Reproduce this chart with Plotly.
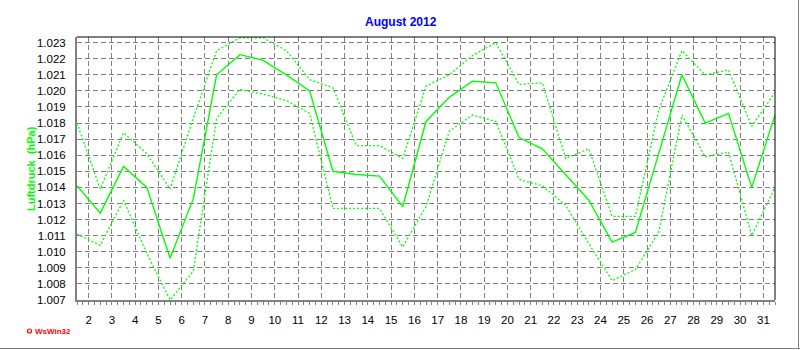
import plotly.graph_objects as go

# ---- data ----
title_text = "August 2012"
y_title = "Luftdruck  (hPa)"
days = list(range(1, 32))
mean_hpa = [1.0141, 1.0124, 1.0153, 1.0140, 1.0096, 1.0133, 1.0210, 1.02225, 1.0219, 1.0210,
            1.0200, 1.0150, 1.0148, 1.0147, 1.0128, 1.0181, 1.0196, 1.0206, 1.0205, 1.0171,
            1.0164, 1.0148, 1.0132, 1.0106, 1.0112, 1.0161, 1.0210, 1.0180, 1.0186, 1.0140,
            1.0185]
max_hpa = [1.0180, 1.0139, 1.0174, 1.0161, 1.0139, 1.0183, 1.0225, 1.0233, 1.0233, 1.0225,
           1.0207, 1.0202, 1.0166, 1.0166, 1.0158, 1.0203, 1.0210, 1.0222, 1.0230, 1.0204,
           1.0205, 1.0158, 1.0164, 1.0122, 1.0122, 1.0188, 1.0225, 1.0210, 1.0213, 1.0178,
           1.0199]
min_hpa = [1.0111, 1.0104, 1.0132, 1.0099, 1.0070, 1.0088, 1.0183, 1.0201, 1.0198, 1.0194,
           1.0186, 1.0127, 1.0127, 1.0127, 1.0103, 1.0128, 1.0175, 1.0185, 1.0181, 1.0145,
           1.0141, 1.0129, 1.0105, 1.0082, 1.0089, 1.0112, 1.0185, 1.0159, 1.0162, 1.0110,
           1.0140]
tick_days = list(range(2, 32))

# each daily value sits in the middle of its day
x = [d + 0.5 for d in days]

GREEN = "#00FF00"
GRID = "#808080"
FONT = "Arial, Liberation Sans, sans-serif"
FS = 11.5

fig = go.Figure()
fig.add_trace(go.Scatter(x=x, y=max_hpa, mode="lines",
                         line=dict(color=GREEN, width=1.3, dash="2px,2px")))
fig.add_trace(go.Scatter(x=x, y=min_hpa, mode="lines",
                         line=dict(color=GREEN, width=1.3, dash="2px,2px")))
fig.add_trace(go.Scatter(x=x, y=mean_hpa, mode="lines",
                         line=dict(color=GREEN, width=1.4)))

L, R, T, B = 77, 25, 37, 50
W, H = 800, 350
pw, ph = W - L - R, H - T - B


def px(xp):
    return (xp - L) / pw


def py(yp):
    return (H - B - yp) / ph


fig.update_layout(
    width=W, height=H,
    margin=dict(l=L, r=R, t=T, b=B, autoexpand=False),
    paper_bgcolor="white", plot_bgcolor="white",
    showlegend=False, hovermode=False,
    font=dict(family=FONT, size=FS, color="black"),
    xaxis=dict(range=[1.5, 31.5], tickvals=tick_days, ticktext=[str(t) for t in tick_days],
               showgrid=True, gridcolor=GRID, griddash="5px,3px", gridwidth=1,
               showline=True, linecolor=GRID, linewidth=2,
               ticks="outside", ticklen=3, tickcolor=GRID, tickwidth=1,
               minor=dict(dtick=0.25, ticks="outside", ticklen=3, tickcolor=GRID, showgrid=False),
               zeroline=False, ticklabelstandoff=5,
               tickfont=dict(size=FS, family=FONT, color="black")),
    yaxis=dict(range=[1.007, 1.02335], dtick=0.001, tick0=1.007, tickformat=".3f",
               showgrid=True, gridcolor=GRID, griddash="5px,3px", gridwidth=1,
               showline=True, linecolor=GRID, linewidth=2,
               ticks="", zeroline=False, ticklabelstandoff=7,
               tickfont=dict(size=FS, family=FONT, color="black")),
    shapes=[
        dict(type="line", xref="paper", yref="paper", x0=0, x1=1, y0=1, y1=1,
             line=dict(color="black", width=1)),
        dict(type="line", xref="paper", yref="paper", x0=1, x1=1, y0=0, y1=1,
             line=dict(color="black", width=1)),
        # outer frame (bottom / right)
        dict(type="line", xref="paper", yref="paper", x0=px(0), x1=px(800), y0=py(348.5), y1=py(348.5),
             line=dict(color="#808080", width=1)),
        dict(type="line", xref="paper", yref="paper", x0=px(798.5), x1=px(798.5), y0=py(0), y1=py(349),
             line=dict(color="#808080", width=1)),
        # WsWin32 logo dot
        dict(type="circle", xref="paper", yref="paper", x0=px(27.5), x1=px(31.5), y0=py(329), y1=py(333),
             line=dict(color="red", width=1.2), fillcolor="white"),
    ],
    annotations=[
        dict(text="<b>" + title_text + "</b>", xref="paper", yref="paper", x=px(401), y=py(22),
             xanchor="center", yanchor="middle", showarrow=False,
             font=dict(color="#0000FF", size=12, family=FONT)),
        dict(text="<b>" + y_title + "</b>", xref="paper", yref="paper", x=px(31), y=py(169),
             xanchor="center", yanchor="middle", showarrow=False, textangle=-90,
             font=dict(color=GREEN, size=11, family=FONT)),
        dict(text="<b>WsWin32</b>", xref="paper", yref="paper", x=px(33), y=py(331),
             xanchor="left", yanchor="middle", showarrow=False,
             font=dict(color="red", size=8, family=FONT)),
    ],
)

fig.write_html("out.html", config={"displayModeBar": False, "staticPlot": True},
               post_script="document.body.style.margin='0';document.body.style.overflow='hidden';")
